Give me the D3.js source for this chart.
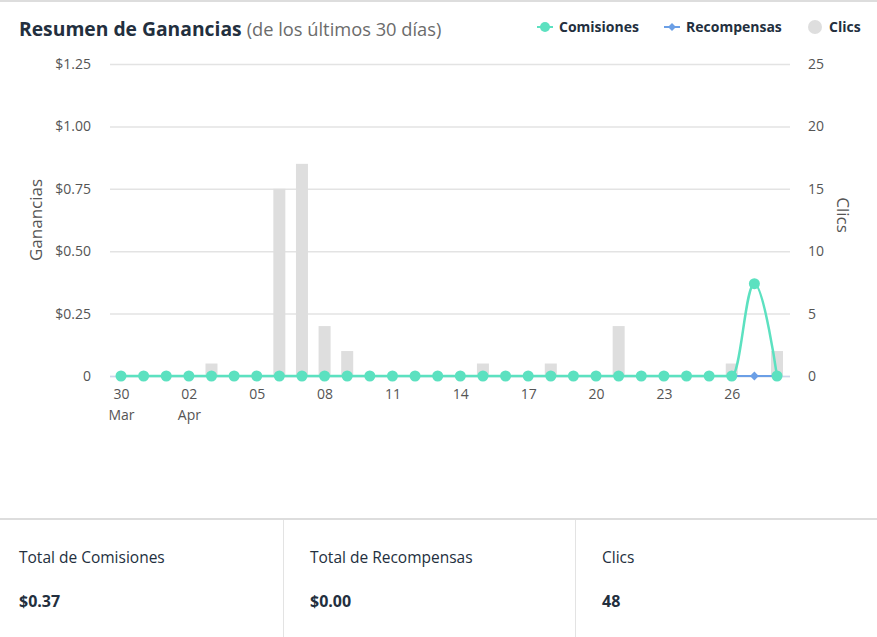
<!DOCTYPE html>
<html><head><meta charset="utf-8">
<script src="https://cdn.jsdelivr.net/npm/d3@7"></script>
<style>
body{margin:0;background:#fff;font-family:"Open Sans","Noto Sans",sans-serif;}
svg{display:block;}
</style></head>
<body>
<svg id="chart" width="877" height="637"></svg>
<script>
const dates = ["2020-03-30","2020-03-31","2020-04-01","2020-04-02","2020-04-03","2020-04-04","2020-04-05","2020-04-06","2020-04-07","2020-04-08","2020-04-09","2020-04-10","2020-04-11","2020-04-12","2020-04-13","2020-04-14","2020-04-15","2020-04-16","2020-04-17","2020-04-18","2020-04-19","2020-04-20","2020-04-21","2020-04-22","2020-04-23","2020-04-24","2020-04-25","2020-04-26","2020-04-27","2020-04-28"];
const comisiones = [0,0,0,0,0,0,0,0,0,0,0,0,0,0,0,0,0,0,0,0,0,0,0,0,0,0,0,0,0.37,0];
const recompensas = [0,0,0,0,0,0,0,0,0,0,0,0,0,0,0,0,0,0,0,0,0,0,0,0,0,0,0,0,0,0];
const clics = [0,0,0,0,1,0,0,15,17,4,2,0,0,0,0,0,1,0,0,1,0,0,4,0,0,0,0,1,0,2];
const leftTicks = [0,0.25,0.5,0.75,1,1.25];
const rightTicks = [0,5,10,15,20,25];
const seriesNames = ["Comisiones","Recompensas","Clics"];
const totals = [["Total de Comisiones","$0.37"],["Total de Recompensas","$0.00"],["Clics","48"]];

const C_TEAL="#5ce1c0", C_BLUE="#6b9fe6", C_BAR="#dedede", C_GRID="#e3e3e3", C_TXT="#555";
const svg = d3.select("#chart");
const parse = d3.timeParse("%Y-%m-%d");
const dd = dates.map(parse);

const x = d3.scaleTime().domain([dd[0], dd[dd.length-1]]).range([121, 777]);
const yL = d3.scaleLinear().domain([0,1.25]).range([376,64]);
const yR = d3.scaleLinear().domain([0,25]).range([376,64]);

// spline path (smoothing 1.5, clamped control points, no false extremes)
function splinePath(pts){
  const p = d3.path();
  const sm = 1.5, den = sm + 1;
  const ctrl = pts.map((pt,i)=>{
    const prev = pts[i-1], next = pts[i+1];
    if(!prev || !next) return null;
    let lx=(sm*pt[0]+prev[0])/den, ly=(sm*pt[1]+prev[1])/den;
    let rx=(sm*pt[0]+next[0])/den, ry=(sm*pt[1]+next[1])/den;
    if(rx!==lx){
      const corr = ((ry-ly)*(rx-pt[0]))/(rx-lx) + pt[1] - ry;
      ly += corr; ry += corr;
    }
    if(ly>prev[1] && ly>pt[1]){ ly=Math.max(prev[1],pt[1]); ry=2*pt[1]-ly; }
    else if(ly<prev[1] && ly<pt[1]){ ly=Math.min(prev[1],pt[1]); ry=2*pt[1]-ly; }
    if(ry>next[1] && ry>pt[1]){ ry=Math.max(next[1],pt[1]); ly=2*pt[1]-ry; }
    else if(ry<next[1] && ry<pt[1]){ ry=Math.min(next[1],pt[1]); ly=2*pt[1]-ry; }
    return {lx,ly,rx,ry};
  });
  p.moveTo(pts[0][0],pts[0][1]);
  for(let i=1;i<pts.length;i++){
    const a = pts[i-1], b = pts[i];
    const c1 = ctrl[i-1] ? [ctrl[i-1].rx, ctrl[i-1].ry] : a;
    const c2 = ctrl[i] ? [ctrl[i].lx, ctrl[i].ly] : b;
    p.bezierCurveTo(c1[0],c1[1],c2[0],c2[1],b[0],b[1]);
  }
  return p.toString();
}

// top border
svg.append("line").attr("x1",0).attr("x2",877).attr("y1",1).attr("y2",1).attr("stroke","#ddd").attr("stroke-width",2);

// title
const t = svg.append("text").attr("x",19).attr("y",36).attr("font-size",19.3);
t.append("tspan").attr("font-weight",700).attr("fill","#232f3e").text("Resumen de Ganancias");
t.append("tspan").attr("fill","#6b6b6b").attr("font-size",18.3).attr("dx",5).text("(de los últimos 30 días)");

// legend
const lg = svg.append("g");
const legX = [545, 672, 815];
lg.append("line").attr("x1",legX[0]-8).attr("x2",legX[0]+8).attr("y1",27).attr("y2",27).attr("stroke",C_TEAL).attr("stroke-width",2);
lg.append("circle").attr("cx",legX[0]).attr("cy",27).attr("r",5).attr("fill",C_TEAL);
lg.append("line").attr("x1",legX[1]-8).attr("x2",legX[1]+8).attr("y1",27).attr("y2",27).attr("stroke",C_BLUE).attr("stroke-width",2);
lg.append("path").attr("d",d3.symbol(d3.symbolDiamond2,40)()).attr("transform",`translate(${legX[1]},27)`).attr("fill",C_BLUE);
lg.append("circle").attr("cx",legX[2]).attr("cy",27).attr("r",7).attr("fill",C_BAR);
seriesNames.forEach((n,i)=>{
  lg.append("text").attr("x",legX[i]+14).attr("y",32).attr("font-size",14).attr("font-weight",700).attr("fill","#232f3e").text(n);
});

// grid (left axis)
const gL = svg.append("g").attr("transform","translate(110,0)")
  .call(d3.axisLeft(yL).tickValues(leftTicks).tickSize(-680).tickPadding(19)
    .tickFormat(d=> d===0 ? "0" : "$"+d3.format(".2f")(d)));
gL.select(".domain").remove();
gL.selectAll(".tick line").attr("stroke",C_GRID).attr("stroke-width",1.5);
gL.selectAll(".tick text").attr("font-size",14).attr("fill",C_TXT).attr("font-family","'Open Sans',sans-serif");

const gR = svg.append("g").attr("transform","translate(790,0)")
  .call(d3.axisRight(yR).tickValues(rightTicks).tickSize(0).tickPadding(18));
gR.select(".domain").remove();
gR.selectAll(".tick text").attr("font-size",14).attr("fill",C_TXT).attr("font-family","'Open Sans',sans-serif");

// axis titles
svg.append("text").attr("transform","translate(42,220) rotate(-90)").attr("text-anchor","middle")
  .attr("font-size",17).attr("fill",C_TXT).text("Ganancias");
svg.append("text").attr("transform","translate(837,215) rotate(90)").attr("text-anchor","middle")
  .attr("font-size",17).attr("fill",C_TXT).text("Clics");

// bars
const bw = 12;
svg.append("g").selectAll("rect").data(clics).join("rect")
  .attr("x",(d,i)=>x(dd[i])-bw/2).attr("width",bw)
  .attr("y",d=>yR(d)).attr("height",d=>yR(0)-yR(d)).attr("fill",C_BAR);

// x axis line
svg.append("line").attr("x1",110).attr("x2",790).attr("y1",376.5).attr("y2",376.5).attr("stroke","#ccd6eb").attr("stroke-width",1.5);

// x ticks
const tickDates = dd.filter((d,i)=>i%3===0);
const gx = svg.append("g").attr("transform","translate(0,376)")
  .call(d3.axisBottom(x).tickValues(tickDates).tickSize(0).tickPadding(13).tickFormat(d3.timeFormat("%d")));
gx.select(".domain").remove();
gx.selectAll(".tick text").attr("font-size",14).attr("fill",C_TXT).attr("font-family","'Open Sans',sans-serif");
gx.selectAll(".tick").each(function(d,i){
  const prev = i>0 ? tickDates[i-1] : null;
  if(!prev || prev.getMonth()!==d.getMonth()){
    d3.select(this).append("text").attr("y",44).attr("font-size",14).attr("fill",C_TXT)
      .attr("font-family","'Open Sans',sans-serif").attr("text-anchor","middle").text(d3.timeFormat("%b")(d));
  }
});

// lines
const ptsR = recompensas.map((d,i)=>[x(dd[i]), yL(d)]);
const ptsC = comisiones.map((d,i)=>[x(dd[i]), yL(d)]);
svg.append("path").attr("d",splinePath(ptsR)).attr("fill","none").attr("stroke",C_BLUE).attr("stroke-width",2);
svg.append("g").selectAll("path").data(recompensas).join("path")
  .attr("d",d3.symbol(d3.symbolDiamond2,50)()).attr("transform",(d,i)=>`translate(${x(dd[i])},${yL(d)})`).attr("fill",C_BLUE);
svg.append("path").attr("d",splinePath(ptsC)).attr("fill","none").attr("stroke",C_TEAL).attr("stroke-width",2.5);
svg.append("g").selectAll("circle").data(comisiones).join("circle")
  .attr("cx",(d,i)=>x(dd[i])).attr("cy",d=>yL(d)).attr("r",5.5).attr("fill",C_TEAL);

// bottom panel
svg.append("line").attr("x1",0).attr("x2",877).attr("y1",519).attr("y2",519).attr("stroke","#ddd").attr("stroke-width",2);
[283.5, 575.5].forEach(xx=>svg.append("line").attr("x1",xx).attr("x2",xx).attr("y1",520).attr("y2",637).attr("stroke","#e3e3e3").attr("stroke-width",1));
const panelX = [19, 310, 602];
totals.forEach((tt,i)=>{
  svg.append("text").attr("x",panelX[i]).attr("y",563).attr("font-size",15.5).attr("fill","#232f3e").text(tt[0]);
  svg.append("text").attr("x",panelX[i]).attr("y",607).attr("font-size",16).attr("font-weight",700).attr("fill","#232f3e").text(tt[1]);
});
</script>
</body></html>
